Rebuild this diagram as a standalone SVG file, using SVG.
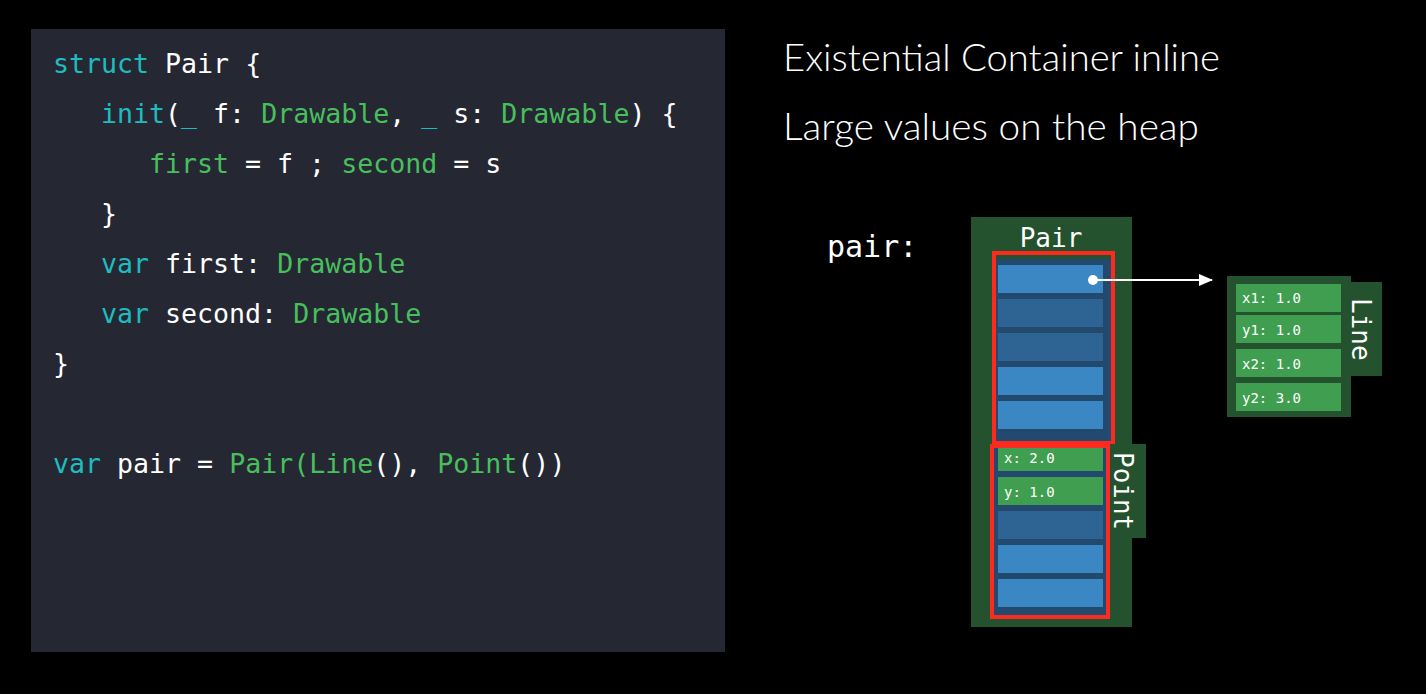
<svg xmlns="http://www.w3.org/2000/svg" width="1426" height="694" viewBox="0 0 1426 694">
<defs>
<style>
.code{font-family:"DejaVu Sans Mono","Liberation Mono",monospace;font-size:26.6px;fill:#ffffff;white-space:pre}
.k{fill:#1fbcbf}
.g{fill:#48bf5d}
.title{font-family:Lato,"Open Sans","Liberation Sans",sans-serif;font-weight:300;font-size:38px;fill:#ffffff}
.mono{font-family:"DejaVu Sans Mono","Liberation Mono",monospace;fill:#ffffff}
.lbl{font-size:26px}
.cell{font-size:14px}
.cont{fill:#24512e}
.slotbg{fill:#234a6e}
.b1{fill:#3a87c4}
.b2{fill:#2e6494}
.gc{fill:#3f9e4f}
.red{fill:none;stroke:#ff2a1f;stroke-width:4}
</style>
<marker id="arr" markerWidth="14" markerHeight="12" refX="13" refY="6" orient="auto" markerUnits="userSpaceOnUse">
<path d="M0,0 L14,6 L0,12 Z" fill="#ffffff"/>
</marker>
</defs>
<rect x="0" y="0" width="1426" height="694" fill="#000000"/>

<g id="code-panel">
<rect x="31" y="29" width="694" height="623" fill="#252833"/>
<text class="code" x="53" y="73"><tspan class="k">struct</tspan> Pair {</text>
<text class="code" x="101" y="123"><tspan class="k">init</tspan>(<tspan class="k">_</tspan> f: <tspan class="g">Drawable</tspan>, <tspan class="k">_</tspan> s: <tspan class="g">Drawable</tspan>) {</text>
<text class="code" x="149" y="173"><tspan class="g">first</tspan> = f ; <tspan class="g">second</tspan> = s</text>
<text class="code" x="101" y="223">}</text>
<text class="code" x="101" y="273"><tspan class="k">var</tspan> first: <tspan class="g">Drawable</tspan></text>
<text class="code" x="101" y="323"><tspan class="k">var</tspan> second: <tspan class="g">Drawable</tspan></text>
<text class="code" x="53" y="373">}</text>
<text class="code" x="53" y="473"><tspan class="k">var</tspan> pair = <tspan class="g">Pair(Line</tspan>(), <tspan class="g">Point</tspan>())</text>
</g>

<g id="titles">
<text class="title" x="783" y="71" textLength="437" lengthAdjust="spacingAndGlyphs">Existential Container inline</text>
<text class="title" x="783" y="140" textLength="416" lengthAdjust="spacingAndGlyphs">Large values on the heap</text>
</g>

<g id="pair-label">
<text class="mono" x="827" y="257" font-size="30">pair:</text>
</g>

<g id="pair-container">
<rect class="cont" x="971" y="217" width="161" height="410"/>
<text class="mono lbl" x="1051" y="247" text-anchor="middle">Pair</text>
</g>

<g id="first-existential">
<rect class="slotbg" x="996" y="259" width="116" height="182"/>
<rect class="b1" x="998" y="265" width="105" height="28"/>
<rect class="b2" x="998" y="299" width="105" height="28"/>
<rect class="b2" x="998" y="333" width="105" height="28"/>
<rect class="b1" x="998" y="367" width="105" height="28"/>
<rect class="b1" x="998" y="401" width="105" height="28"/>
<rect class="red" x="994" y="253" width="119" height="190"/>
</g>

<g id="point-tab">
<rect class="cont" x="1108" y="444" width="38" height="94"/>
<text class="mono lbl" transform="translate(1114,452) rotate(90)" x="0" y="0">Point</text>
</g>

<g id="second-existential">
<rect class="slotbg" x="994" y="446" width="114" height="171"/>
<rect class="gc" x="998" y="447" width="105" height="24"/>
<text class="mono cell" x="1004" y="463">x: 2.0</text>
<rect class="gc" x="998" y="477" width="105" height="28"/>
<text class="mono cell" x="1004" y="497">y: 1.0</text>
<rect class="b2" x="998" y="511" width="105" height="28"/>
<rect class="b1" x="998" y="545" width="105" height="28"/>
<rect class="b1" x="998" y="579" width="105" height="28"/>
<rect class="red" x="992" y="446" width="116" height="171"/>
</g>

<g id="line-box">
<rect class="cont" x="1227" y="276" width="124" height="141"/>
<rect class="cont" x="1349" y="282" width="33" height="94"/>
<text class="mono lbl" transform="translate(1352,298) rotate(90)" x="0" y="0">Line</text>
<rect class="gc" x="1236" y="284" width="105" height="28"/>
<text class="mono cell" x="1242" y="303">x1: 1.0</text>
<rect class="gc" x="1236" y="315" width="105" height="28"/>
<text class="mono cell" x="1242" y="335">y1: 1.0</text>
<rect class="gc" x="1236" y="349" width="105" height="28"/>
<text class="mono cell" x="1242" y="369">x2: 1.0</text>
<rect class="gc" x="1236" y="383" width="105" height="28"/>
<text class="mono cell" x="1242" y="403">y2: 3.0</text>
</g>

<g id="connectors">
<circle cx="1093" cy="280" r="5" fill="#ffffff"/>
<line x1="1093" y1="280" x2="1212" y2="280" stroke="#ffffff" stroke-width="2" marker-end="url(#arr)"/>
</g>
</svg>
